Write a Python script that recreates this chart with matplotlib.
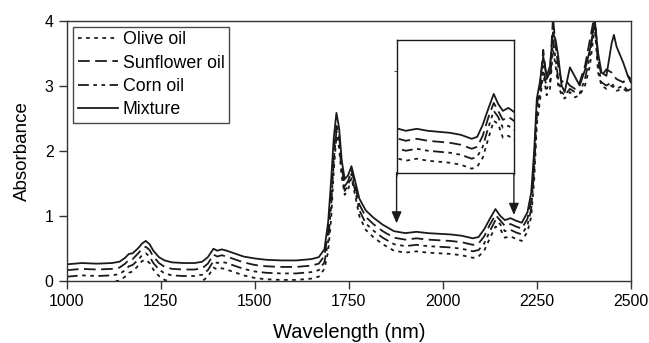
import matplotlib
matplotlib.use("Agg")
import matplotlib.pyplot as plt

plt.rcParams['font.family'] = ['Liberation Sans', 'DejaVu Sans']

wavelength = [1000, 1040, 1080, 1120, 1140, 1155, 1165, 1175, 1190, 1200, 1210, 1220, 1230, 1245,
              1260, 1280, 1310, 1340, 1360, 1375, 1390, 1400, 1412, 1425, 1445, 1470, 1500, 1530,
              1570, 1610, 1650, 1670, 1685, 1695, 1703, 1710, 1717, 1724, 1731, 1739, 1748, 1757,
              1766, 1778, 1795, 1815, 1840, 1870, 1900, 1930, 1960, 1990, 2020, 2050, 2080, 2095,
              2110, 2125, 2140, 2152, 2165, 2180, 2195, 2210, 2225, 2235, 2243, 2250, 2258, 2267,
              2276, 2285, 2293, 2300, 2307, 2316, 2324, 2338, 2351, 2364, 2378, 2391, 2404, 2413,
              2422, 2435, 2449, 2455, 2462, 2480, 2492, 2500]

mixture = [0.25, 0.27, 0.26, 0.27, 0.29, 0.35, 0.41, 0.42, 0.50, 0.57, 0.61, 0.56, 0.46, 0.36,
           0.31, 0.28, 0.27, 0.27, 0.29, 0.36, 0.49, 0.46, 0.48, 0.46, 0.42, 0.37, 0.34, 0.32,
           0.31, 0.31, 0.33, 0.36, 0.48, 0.90, 1.55, 2.20, 2.58, 2.35, 1.85, 1.56, 1.62, 1.76,
           1.55, 1.26, 1.08, 0.97, 0.86, 0.76, 0.73, 0.75, 0.73, 0.72, 0.71, 0.69, 0.65, 0.67,
           0.79, 0.95, 1.10, 1.00, 0.93, 0.96, 0.92, 0.89, 1.05, 1.35, 2.00, 2.80, 3.05, 3.45,
           3.14, 3.30, 3.82, 3.70, 3.45, 3.00, 2.90, 3.28, 3.14, 3.00, 3.24, 3.55, 3.98, 3.50,
           3.20, 3.15, 3.65, 3.78, 3.60, 3.35, 3.15, 3.05]

sunflower = [0.16, 0.18, 0.17, 0.18, 0.20, 0.26, 0.32, 0.33, 0.42, 0.49, 0.52, 0.47, 0.37, 0.27,
             0.21, 0.18, 0.17, 0.17, 0.19, 0.26, 0.40, 0.37, 0.39, 0.37, 0.33, 0.28, 0.24, 0.22,
             0.21, 0.21, 0.23, 0.26, 0.38, 0.75, 1.35, 2.00, 2.38, 2.25, 1.75, 1.45, 1.53, 1.70,
             1.48, 1.17, 0.98, 0.87, 0.76, 0.66, 0.63, 0.65, 0.63, 0.62, 0.61, 0.59, 0.55, 0.57,
             0.68, 0.86, 1.01, 0.93, 0.84, 0.87, 0.83, 0.80, 0.95, 1.22, 1.85, 2.70, 2.95, 3.55,
             3.10, 3.20, 4.05, 3.60, 3.30, 3.05, 3.10, 3.00, 2.95, 3.05, 3.30, 3.70, 4.10, 3.40,
             3.15, 3.25, 3.20, 3.15, 3.10, 3.05, 3.15, 3.10]

corn = [0.06, 0.08, 0.07, 0.08, 0.10, 0.16, 0.22, 0.24, 0.32, 0.39, 0.42, 0.37, 0.27, 0.17,
        0.11, 0.08, 0.07, 0.07, 0.09, 0.16, 0.30, 0.27, 0.29, 0.27, 0.23, 0.18, 0.14, 0.12,
        0.11, 0.11, 0.13, 0.16, 0.28, 0.60, 1.15, 1.85, 2.30, 2.15, 1.68, 1.38, 1.46, 1.64,
        1.40, 1.08, 0.88, 0.77, 0.66, 0.56, 0.53, 0.55, 0.53, 0.52, 0.51, 0.49, 0.45, 0.47,
        0.57, 0.76, 0.93, 0.87, 0.76, 0.78, 0.74, 0.71, 0.85, 1.10, 1.70, 2.55, 2.85, 3.30,
        2.95, 3.05, 3.70, 3.40, 3.10, 2.90, 2.85, 2.95, 2.90, 2.88, 3.10, 3.45, 4.05, 3.30,
        3.05, 3.00, 3.05, 2.98, 2.95, 3.00, 2.92, 2.95]

olive = [-0.04, -0.02, -0.03, -0.02, 0.00, 0.06, 0.12, 0.14, 0.23, 0.30, 0.32, 0.27, 0.17, 0.07,
         0.01, -0.02, -0.03, -0.03, -0.01, 0.06, 0.20, 0.17, 0.19, 0.17, 0.13, 0.08, 0.04, 0.02,
         0.01, 0.01, 0.03, 0.06, 0.18, 0.45, 0.95, 1.70, 2.22, 2.05, 1.60, 1.32, 1.40, 1.58,
         1.33, 0.99, 0.78, 0.67, 0.56, 0.46, 0.43, 0.45, 0.43, 0.42, 0.41, 0.39, 0.35, 0.37,
         0.46, 0.65, 0.83, 0.80, 0.66, 0.68, 0.64, 0.61, 0.75, 0.98, 1.55, 2.40, 2.75, 3.20,
         2.85, 2.95, 3.55, 3.30, 3.00, 2.85, 2.80, 2.90, 2.82, 2.85, 3.00, 3.30, 3.90, 3.20,
         3.00, 2.95, 3.00, 2.95, 2.92, 2.95, 2.90, 2.90]

series_names = ['Olive oil', 'Sunflower oil', 'Corn oil', 'Mixture']
x_ticks = [1000, 1250, 1500, 1750, 2000, 2250, 2500]
y_ticks = [0, 1, 2, 3, 4]

styles = {
    'Olive oil': (0, (2.0, 2.5)),
    'Sunflower oil': (0, (6.5, 3.0)),
    'Corn oil': (0, (6.0, 2.5, 2.0, 2.5, 2.0, 2.5)),
    'Mixture': '-',
}
data = {'Olive oil': olive, 'Sunflower oil': sunflower, 'Corn oil': corn, 'Mixture': mixture}

fig = plt.figure(figsize=(6.49, 3.43), dpi=100)
ax = fig.add_axes([0.103, 0.182, 0.869, 0.758])

for name in series_names:
    ax.plot(wavelength, data[name], color='#1a1a1a', lw=1.3, linestyle=styles[name], label=name)

ax.set_xlim(1000, 2500)
ax.set_ylim(0, 4)
ax.set_xticks(x_ticks)
ax.set_yticks(y_ticks)
ax.tick_params(direction='out', length=5.5, width=1, labelsize=11.4, pad=4, color='#333333')
for s in ax.spines.values():
    s.set_linewidth(1.0)
    s.set_color('#333333')
ax.set_xlabel('Wavelength (nm)', fontsize=14.5, labelpad=10)
ax.set_ylabel('Absorbance', fontsize=13.5, labelpad=10)

leg = ax.legend(loc='upper left', fontsize=12.8, frameon=True, fancybox=False, handlelength=2.3,
                handletextpad=0.25, labelspacing=0.36, borderaxespad=0.35, borderpad=0.25)
leg.get_frame().set_edgecolor('#1a1a1a')
leg.get_frame().set_linewidth(1.0)

# inset magnifying 1877-2189 nm
ins_left, ins_right = 1877, 2189
ins_bottom, ins_top = 1.66, 3.70
axi = ax.inset_axes([ins_left, ins_bottom, ins_right - ins_left, ins_top - ins_bottom],
                    transform=ax.transData)
for name in series_names:
    axi.plot(wavelength, data[name], color='#1a1a1a', lw=1.3, linestyle=styles[name])
axi.set_xlim(1875, 2195)
axi.set_ylim(0.31, 1.64)
axi.set_xticks([1875, 2195])
axi.set_yticks([1.33])
axi.tick_params(direction='out', length=2, width=0.8, labelbottom=False, labelleft=False,
                color='#555555')
for s in axi.spines.values():
    s.set_linewidth(1.0)
    s.set_color('#1a1a1a')

ax.annotate('', xy=(ins_left, 0.88), xytext=(ins_left, ins_bottom),
            arrowprops=dict(arrowstyle='-|>,head_length=0.7,head_width=0.3', color='#1a1a1a',
                            lw=1.0, shrinkA=0, shrinkB=0))
ax.annotate('', xy=(ins_right, 1.01), xytext=(ins_right, ins_bottom),
            arrowprops=dict(arrowstyle='-|>,head_length=0.7,head_width=0.3', color='#1a1a1a',
                            lw=1.0, shrinkA=0, shrinkB=0))

fig.savefig('out.png', dpi=100)
